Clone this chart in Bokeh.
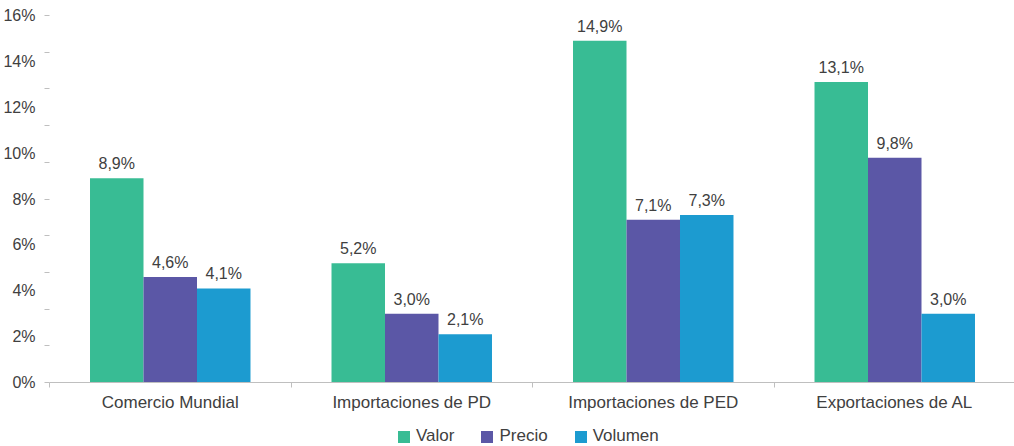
from bokeh.plotting import figure
from bokeh.layouts import column
from bokeh.models import ColumnDataSource, FixedTicker, Range1d, Legend, LegendItem, LabelSet
from bokeh.core.properties import value
from bokeh.embed import file_html
from bokeh.resources import INLINE
from bokeh.transform import dodge

# ---- data ----
categories = ["Comercio Mundial", "Importaciones de PD", "Importaciones de PED", "Exportaciones de AL"]
series_names = ["Valor", "Precio", "Volumen"]
valor = [8.9, 5.2, 14.9, 13.1]
precio = [4.6, 3.0, 7.1, 9.8]
volumen = [4.1, 2.1, 7.3, 3.0]
y_ticks = [0, 2, 4, 6, 8, 10, 12, 14, 16]
y_tick_labels = ["0%", "2%", "4%", "6%", "8%", "10%", "12%", "14%", "16%"]

colors = ["#38bc94", "#5b57a6", "#1c9bd0"]
FONT = "Liberation Sans"
TEXT = "#404040"


def fmt(v):
    return ("%.1f" % v).replace(".", ",") + "%"


idx = list(range(len(categories)))
data = dict(x=idx)
for name, vals in zip(series_names, [valor, precio, volumen]):
    data[name] = vals
    data[name + "_lbl"] = [fmt(v) for v in vals]
src = ColumnDataSource(data)

p = figure(frame_width=966, frame_height=367, output_backend="svg", toolbar_location=None,
           x_range=Range1d(-0.5, len(categories) - 0.5), y_range=Range1d(0, 16),
           min_border_left=39, min_border_right=0, min_border_top=15, min_border_bottom=0)
p.outline_line_color = None
p.xgrid.visible = False
p.ygrid.visible = False
p.background_fill_color = "white"
p.border_fill_color = "white"

bw = 0.2215
offsets = [-bw, 0, bw]
for name, off, c in zip(series_names, offsets, colors):
    p.vbar(x=dodge("x", off), top=name, width=bw, source=src,
           fill_color=c, line_color=None)
    lbl = LabelSet(x=dodge("x", off), y=name, text=name + "_lbl", source=src,
                   text_align="center", text_baseline="alphabetic", y_offset=9,
                   text_font=value(FONT), text_font_size=value("16px"), text_color=TEXT)
    p.add_layout(lbl)

# y axis
ya = p.yaxis[0]
ya.ticker = FixedTicker(ticks=y_ticks, minor_ticks=[i * 1.6 for i in range(11)])
ya.major_label_overrides = {t: l for t, l in zip(y_ticks, y_tick_labels)}
ya.axis_line_color = None
ya.major_tick_line_color = None
ya.major_tick_out = 0
ya.major_tick_in = 0
ya.minor_tick_line_color = "#bfbfbf"
ya.minor_tick_out = 5
ya.minor_tick_in = 0
ya.major_label_standoff = 9
ya.major_label_text_font = FONT
ya.major_label_text_font_size = "16px"
ya.major_label_text_color = TEXT

# x axis
xa = p.xaxis[0]
xa.ticker = FixedTicker(ticks=idx, minor_ticks=[i - 0.5 for i in range(len(categories) + 1)])
xa.major_label_overrides = {i: c for i, c in zip(idx, categories)}
xa.axis_line_color = "#bfbfbf"
xa.major_tick_line_color = None
xa.major_tick_out = 0
xa.major_tick_in = 0
xa.minor_tick_line_color = "#bfbfbf"
xa.minor_tick_out = 5
xa.minor_tick_in = 0
xa.major_label_standoff = 5
xa.major_label_text_font = FONT
xa.major_label_text_font_size = "17px"
xa.major_label_text_color = TEXT

# legend strip below the chart (zero-height proxy bars carry the legend swatches)
p2 = figure(frame_width=1005, frame_height=32, output_backend="svg", toolbar_location=None,
            x_range=Range1d(-0.5, len(categories) - 0.5), y_range=Range1d(0, 1),
            x_axis_location=None, y_axis_location=None,
            min_border_left=0, min_border_right=0, min_border_top=0, min_border_bottom=0)
p2.outline_line_color = None
p2.xgrid.visible = False
p2.ygrid.visible = False
p2.border_fill_color = "white"
leg_renderers = [p2.vbar(x="x", top=0, bottom=0, width=bw, source=src,
                         fill_color=c, line_color=None) for c in colors]

legend = Legend(items=[LegendItem(label=n, renderers=[r], index=0) for n, r in zip(series_names, leg_renderers)],
                location=(396, 0), orientation="horizontal",
                glyph_width=15, glyph_height=15, label_standoff=5, spacing=25,
                padding=0, margin=0, border_line_color=None, background_fill_alpha=0,
                label_text_font=FONT, label_text_font_size="17px", label_text_color=TEXT)
p2.add_layout(legend, "center")

layout = column(p, p2, spacing=0)
open("out.html", "w").write(file_html(layout, INLINE))
